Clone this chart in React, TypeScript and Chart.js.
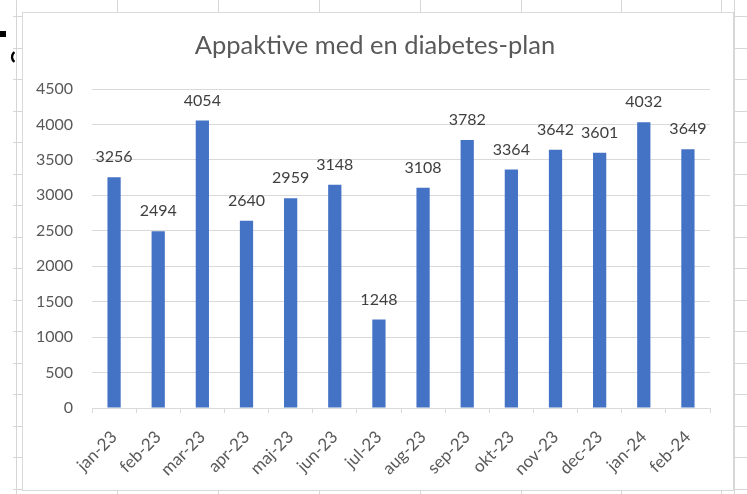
import React, { useEffect, useRef } from "react";
import { Chart, registerables } from "chart.js";

Chart.register(...registerables);

const TITLE = "Appaktive med en diabetes-plan";
const CATEGORIES = [
  "jan-23", "feb-23", "mar-23", "apr-23", "maj-23", "jun-23", "jul-23",
  "aug-23", "sep-23", "okt-23", "nov-23", "dec-23", "jan-24", "feb-24",
];
const VALUES = [3256, 2494, 4054, 2640, 2959, 3148, 1248, 3108, 3782, 3364, 3642, 3601, 4032, 3649];
const Y_MIN = 0;
const Y_MAX = 4500;
const Y_STEP = 500;

const FONT = "Lato, 'Noto Sans', sans-serif";
const TEXT = "#595959";
const BAR = "#4472C4";
const GRID = "#D9D9D9";

const decorations = {
  id: "decorations",
  beforeDraw(chart: any) {
    const ctx = chart.ctx;
    ctx.save();
    ctx.fillStyle = "#ffffff";
    ctx.fillRect(0, 0, chart.width, chart.height);
    ctx.strokeStyle = "#D6D6D6";
    ctx.lineWidth = 1;
    ctx.beginPath();
    ctx.moveTo(16.5, 0);
    ctx.lineTo(16.5, 494);
    ctx.stroke();
    ctx.beginPath();
    ctx.moveTo(734.5, 0);
    ctx.lineTo(734.5, 494);
    ctx.stroke();
    for (let i = 0; i <= 15; i++) {
      const y = Math.round(16 + i * 31.53) + 0.5;
      ctx.beginPath();
      ctx.moveTo(13, y);
      ctx.lineTo(22, y);
      ctx.moveTo(734, y);
      ctx.lineTo(747, y);
      ctx.stroke();
    }
    const cols = [117, 218, 319, 420, 521, 621, 721];
    for (const x of cols) {
      ctx.beginPath();
      ctx.moveTo(x + 0.5, 0);
      ctx.lineTo(x + 0.5, 12);
      ctx.moveTo(x + 0.5, 490);
      ctx.lineTo(x + 0.5, 494);
      ctx.stroke();
    }
    ctx.fillStyle = "#000000";
    ctx.fillRect(0, 31, 6, 6);
    ctx.beginPath();
    ctx.lineWidth = 2.4;
    ctx.strokeStyle = "#000000";
    ctx.arc(18, 57, 6, Math.PI * 0.7, Math.PI * 1.3);
    ctx.stroke();
    ctx.fillStyle = "#ffffff";
    ctx.fillRect(22, 12, 711, 478);
    ctx.lineWidth = 1;
    ctx.strokeStyle = GRID;
    ctx.strokeRect(22.5, 12.5, 711, 478);
    ctx.fillStyle = TEXT;
    ctx.font = `25.5px ${FONT}`;
    ctx.textAlign = "center";
    ctx.textBaseline = "alphabetic";
    ctx.fillText(TITLE, 375, 54);
    ctx.restore();
  },
};

const dataLabels = {
  id: "dataLabels",
  afterDatasetsDraw(chart: any) {
    const ctx = chart.ctx;
    const meta = chart.getDatasetMeta(0);
    ctx.save();
    ctx.fillStyle = "#404040";
    ctx.font = `16px ${FONT}`;
    ctx.textAlign = "center";
    ctx.textBaseline = "alphabetic";
    meta.data.forEach((bar: any, i: number) => {
      ctx.fillText(String(VALUES[i]), bar.x, bar.y - 15);
    });
    ctx.restore();
  },
};

export default function App() {
  const ref = useRef<HTMLCanvasElement>(null);
  useEffect(() => {
    document.body.style.margin = "0";
    const chart = new Chart(ref.current!, {
      type: "bar",
      data: {
        labels: CATEGORIES,
        datasets: [
          {
            data: VALUES,
            backgroundColor: BAR,
            borderWidth: 0,
            barPercentage: 0.3,
            categoryPercentage: 1,
          },
        ],
      },
      options: {
        responsive: false,
        animation: false,
        layout: { padding: { top: 89, right: 37, left: 0, bottom: 0 } },
        plugins: {
          legend: { display: false },
          title: { display: false },
          tooltip: { enabled: false },
        },
        scales: {
          x: {
            afterFit: (s: any) => {
              s.height = 86;
            },
            grid: {
              offset: true,
              drawOnChartArea: false,
              drawTicks: true,
              tickLength: 5,
              color: GRID,
            },
            border: { display: true, color: GRID },
            ticks: {
              minRotation: 45,
              maxRotation: 45,
              color: TEXT,
              font: { family: FONT, size: 17 },
              padding: 14,
              autoSkip: false,
            },
          },
          y: {
            min: Y_MIN,
            max: Y_MAX,
            afterFit: (s: any) => {
              s.width = 92;
            },
            grid: { color: GRID, drawTicks: false },
            border: { display: false },
            ticks: {
              stepSize: Y_STEP,
              color: TEXT,
              font: { family: FONT, size: 16 },
              padding: 19,
              callback: (v: any) => String(v),
            },
          },
        },
      },
      plugins: [decorations, dataLabels],
    });
    return () => chart.destroy();
  }, []);
  return (
    <div style={{ position: "absolute", left: 0, top: 0, width: 747, height: 494 }}>
      <canvas ref={ref} width={747} height={494} />
    </div>
  );
}
